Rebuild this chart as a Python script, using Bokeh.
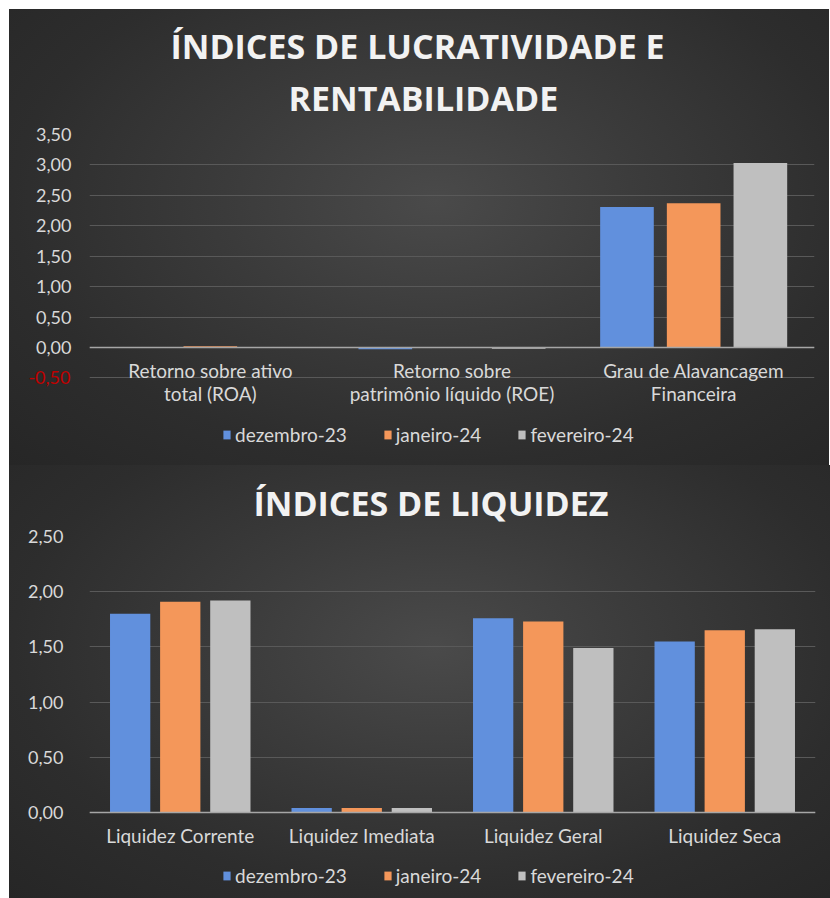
from bokeh.plotting import figure
from bokeh.models import (ColumnDataSource, Span, CustomJSTickFormatter, FixedTicker, Title,
                          CategoricalAxis, LinearAxis)
from bokeh.transform import dodge
from bokeh.layouts import column
from bokeh.embed import file_html
from bokeh.resources import INLINE

# ---------------- data ----------------
series_names = ["dezembro-23", "janeiro-24", "fevereiro-24"]
series_colors = ["#6190dd", "#f4975a", "#bfbfbf"]

lucr_categories = ["Retorno sobre ativo", "Retorno sobre", "Grau de Alavancagem"]
lucr_line2 = ["total (ROA)", "patrimônio líquido (ROE)", "Financeira"]
lucr_dez = [0.01, -0.03, 2.31]
lucr_jan = [0.02, -0.01, 2.37]
lucr_fev = [0.01, -0.02, 3.03]
lucr_ticks = [0.0, 0.5, 1.0, 1.5, 2.0, 2.5, 3.0, 3.5]
lucr_negative_ticks = [-0.5]
lucr_titles = ["ÍNDICES DE LUCRATIVIDADE E", "RENTABILIDADE"]

liq_categories = ["Liquidez Corrente", "Liquidez Imediata", "Liquidez Geral", "Liquidez Seca"]
liq_dez = [1.80, 0.04, 1.76, 1.55]
liq_jan = [1.91, 0.04, 1.73, 1.65]
liq_fev = [1.92, 0.04, 1.49, 1.66]
liq_ticks = [0.0, 0.5, 1.0, 1.5, 2.0, 2.5]
liq_titles = ["ÍNDICES DE LIQUIDEZ"]

TXT = "#d9d9d9"
GRID = "#595959"
FONT = "Lato"
COMMA = "return tick.toFixed(2).replace('.', ',');"
GRADIENT = ("radial-gradient(ellipse farthest-corner at 52% 42%, "
            "#4a4a4a 0%, #3b3b3b 35%, #2d2d2d 70%, #262626 100%)")


def style_axis(ax, standoff, size):
    ax.axis_line_color = None
    ax.major_tick_line_color = None
    ax.minor_tick_line_color = None
    ax.major_tick_out = 0
    ax.major_tick_in = 0
    ax.major_label_text_color = TXT
    ax.major_label_text_font = FONT
    ax.major_label_text_font_size = size
    ax.major_label_standoff = standoff


def make_chart(cats, dez, jan, fev, ticks, grid_ticks, y_range, width, height, borders,
               titles, title_standoffs, title_offsets, y_standoff, x_standoff, legend_loc):
    src = ColumnDataSource(dict(cat=cats, dez=dez, jan=jan, fev=fev))
    p = figure(x_range=cats, y_range=y_range, width=width, height=height,
               output_backend="svg", toolbar_location=None,
               background_fill_color=None, border_fill_color=None,
               min_border_left=borders[0], min_border_right=borders[1],
               min_border_top=borders[2], min_border_bottom=borders[3],
               styles={"background": GRADIENT})
    p.outline_line_color = None
    p.x_range.range_padding = 0.0
    p.x_range.factor_padding = 0.0

    for key, off, col, name in zip(["dez", "jan", "fev"], [-0.276, 0.0, 0.276], series_colors, series_names):
        p.vbar(x=dodge("cat", off, range=p.x_range), top=key, bottom=0, width=0.222,
               source=src, fill_color=col, line_color=None, legend_label=name)

    p.yaxis.ticker = FixedTicker(ticks=ticks)
    p.yaxis.formatter = CustomJSTickFormatter(code=COMMA)
    style_axis(p.yaxis[0], y_standoff, "18px")
    p.ygrid.ticker = FixedTicker(ticks=grid_ticks)
    p.ygrid.grid_line_color = GRID
    p.ygrid.grid_line_width = 1
    p.xgrid.grid_line_color = None

    p.xaxis[0].fixed_location = 0
    style_axis(p.xaxis[0], x_standoff, "19px")

    p.add_layout(Span(location=0, dimension="width", line_color="#a6a6a6", line_width=1.5))

    leg = p.legend[0]
    leg.orientation = "horizontal"
    leg.location = legend_loc
    leg.background_fill_alpha = 0
    leg.border_line_alpha = 0
    leg.label_text_color = TXT
    leg.label_text_font = FONT
    leg.label_text_font_size = "19px"
    leg.glyph_width = 9
    leg.glyph_height = 11
    leg.label_standoff = 4
    leg.spacing = 36
    leg.padding = 0
    leg.margin = 0

    # inner title first (closest to the frame), outer title last
    for t, so, off in zip(reversed(titles), title_standoffs, title_offsets):
        p.add_layout(Title(text=t, align="left", offset=off, text_color="#f2f2f2",
                           text_font="Open Sans", text_font_style="bold", text_font_size="34px",
                           standoff=so), "above")
    return p


p1 = make_chart(lucr_categories, lucr_dez, lucr_jan, lucr_fev, lucr_ticks,
                lucr_ticks + lucr_negative_ticks, (-1.939, 3.5), 820, 456, (80, 12, 125, 0),
                lucr_titles, [27, -19], [199, 81], 18, 12, (133, 19))
ax2 = CategoricalAxis(fixed_location=0,
                      formatter=CustomJSTickFormatter(args=dict(cats=lucr_categories, lines=lucr_line2),
                                                      code="return lines[cats.indexOf(tick)];"))
style_axis(ax2, 35, "19px")
p1.add_layout(ax2, "below")
red_axis = LinearAxis(ticker=FixedTicker(ticks=lucr_negative_ticks),
                      formatter=CustomJSTickFormatter(code=COMMA))
style_axis(red_axis, -37, "18px")
red_axis.major_label_text_color = "#c00000"
p1.add_layout(red_axis, "left")

p2 = make_chart(liq_categories, liq_dez, liq_jan, liq_fev, liq_ticks, liq_ticks,
                (-0.779, 2.5), 821, 433, (73, 15, 71, 0),
                liq_titles, [21], [164], 26, 12, (133, 11))

layout = column(p1, p2, spacing=0, margin=(9, 0, 0, 9))
open("out.html", "w").write(file_html(layout, INLINE))
